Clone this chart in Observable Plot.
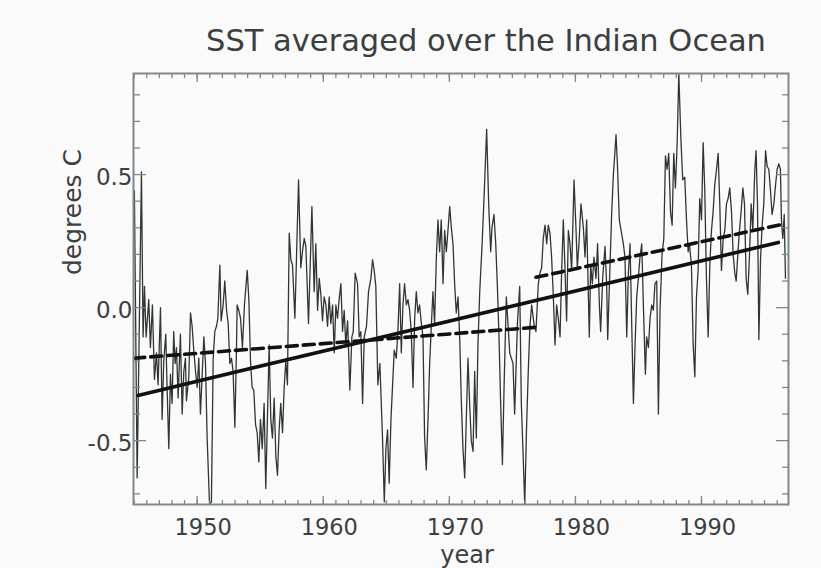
<!DOCTYPE html>
<html>
<head>
<meta charset="utf-8">
<script src="https://cdn.jsdelivr.net/npm/d3@7"></script>
<script src="https://cdn.jsdelivr.net/npm/@observablehq/plot@0.6"></script>
<style>
  html, body { margin: 0; padding: 0; background: #fafafa; }
</style>
</head>
<body>
<div id="chart"></div>
<script>
// ---- Data ----
const titleText = "SST averaged over the Indian Ocean";
const xLabel = "year";
const yLabel = "degrees C";

const sstYear = [
1945.02,1945.24,1945.58,1945.71,1945.82,1945.95,1946.16,1946.29,1946.45,1946.61,1946.77,1946.90,
1947.09,1947.22,1947.35,1947.51,1947.62,1947.75,1947.88,1948.01,1948.14,1948.25,1948.36,1948.49,
1948.67,1948.81,1948.94,1949.07,1949.15,1949.34,1949.47,1949.60,1949.73,1949.87,1950.00,1950.13,
1950.26,1950.39,1950.53,1950.66,1950.79,1950.98,1951.13,1951.27,1951.40,1951.53,1951.64,1951.80,
1951.90,1952.06,1952.19,1952.33,1952.46,1952.59,1952.72,1952.85,1952.99,1953.12,1953.17,1953.30,
1953.44,1953.59,1953.75,1953.97,1954.10,1954.23,1954.36,1954.49,1954.63,1954.76,1954.89,1955.02,
1955.16,1955.31,1955.44,1955.71,1955.84,1955.97,1956.11,1956.24,1956.37,1956.50,1956.63,1956.77,
1956.90,1957.03,1957.16,1957.30,1957.43,1957.56,1957.75,1958.04,1958.22,1958.35,1958.49,1958.62,
1958.83,1959.10,1959.28,1959.41,1959.55,1959.68,1959.81,1959.94,1960.07,1960.21,1960.34,1960.47,
1960.60,1960.74,1960.87,1961.00,1961.13,1961.26,1961.40,1961.53,1961.66,1961.79,1961.93,1962.11,
1962.27,1962.38,1962.53,1962.72,1962.85,1962.98,1963.12,1963.25,1963.43,1963.59,1963.78,1963.91,
1964.04,1964.17,1964.33,1964.49,1964.70,1964.84,1964.97,1965.10,1965.23,1965.37,1965.63,1965.79,
1965.92,1966.06,1966.19,1966.32,1966.45,1966.59,1966.72,1966.85,1966.98,1967.12,1967.25,1967.38,
1967.51,1967.64,1967.78,1967.91,1968.04,1968.17,1968.31,1968.44,1968.57,1968.70,1968.83,1968.97,
1969.10,1969.23,1969.36,1969.50,1969.63,1969.76,1969.89,1970.03,1970.16,1970.29,1970.42,1970.55,
1970.69,1970.82,1970.95,1971.08,1971.22,1971.35,1971.48,1971.61,1971.74,1971.88,1972.01,1972.14,
1972.27,1972.41,1972.59,1972.75,1972.96,1973.12,1973.28,1973.38,1973.54,1973.68,1973.81,1973.94,
1974.07,1974.21,1974.34,1974.52,1974.65,1974.79,1974.92,1975.05,1975.18,1975.40,1975.58,1975.71,
1975.85,1975.98,1976.13,1976.26,1976.39,1976.53,1976.71,1976.87,1977.06,1977.19,1977.32,1977.45,
1977.59,1977.72,1977.85,1977.98,1978.11,1978.25,1978.38,1978.51,1978.64,1978.78,1978.91,1979.04,
1979.17,1979.30,1979.44,1979.57,1979.70,1979.89,1980.05,1980.15,1980.28,1980.44,1980.63,1980.76,
1980.89,1981.02,1981.10,1981.21,1981.34,1981.47,1981.63,1981.76,1981.90,1982.00,1982.16,1982.35,
1982.48,1982.56,1982.69,1982.88,1983.01,1983.14,1983.22,1983.33,1983.48,1983.62,1983.80,1983.93,
1984.07,1984.20,1984.33,1984.46,1984.60,1984.73,1984.86,1984.99,1985.12,1985.26,1985.39,1985.55,
1985.65,1985.79,1985.92,1986.05,1986.18,1986.31,1986.45,1986.58,1986.71,1986.87,1987.01,1987.14,
1987.27,1987.40,1987.54,1987.67,1987.80,1987.93,1988.07,1988.20,1988.36,1988.51,1988.67,1988.81,
1988.94,1989.04,1989.20,1989.34,1989.47,1989.60,1989.73,1989.86,1990.00,1990.13,1990.26,1990.39,
1990.53,1990.66,1990.79,1990.92,1991.05,1991.19,1991.32,1991.45,1991.58,1991.72,1991.85,1991.98,
1992.11,1992.24,1992.38,1992.51,1992.64,1992.75,1992.88,1993.01,1993.14,1993.28,1993.41,1993.54,
1993.67,1993.81,1993.94,1994.07,1994.23,1994.33,1994.44,1994.55,1994.68,1994.81,1994.94,1995.08,
1995.21,1995.34,1995.47,1995.60,1995.74,1995.87,1996.00,1996.13,1996.26,1996.34,1996.45,1996.56,
1996.66
];
const sstValue = [
0.44,-0.64,0.51,-0.11,0.08,-0.11,0.03,-0.15,0.01,-0.27,-0.17,-0.29,
0.00,-0.42,-0.20,-0.10,-0.31,-0.53,-0.25,-0.36,-0.09,-0.21,-0.15,-0.34,
-0.10,-0.40,-0.24,-0.19,-0.35,-0.26,-0.02,-0.07,-0.16,-0.24,-0.30,-0.19,
-0.40,-0.26,-0.11,-0.21,-0.49,-0.74,-0.73,-0.19,-0.09,-0.07,-0.04,0.16,
-0.05,0.01,0.10,-0.01,-0.06,-0.21,-0.19,-0.24,-0.45,-0.15,0.01,-0.01,
-0.04,-0.15,0.01,0.14,0.03,-0.20,-0.30,-0.31,-0.44,-0.47,-0.58,-0.42,
-0.53,-0.36,-0.68,-0.14,-0.42,-0.49,-0.34,-0.56,-0.63,-0.46,-0.36,-0.47,
-0.30,-0.20,-0.29,0.28,0.18,0.16,-0.04,0.48,0.15,0.21,0.26,0.23,
-0.06,0.38,0.06,0.24,-0.01,0.11,0.05,-0.05,0.04,0.01,-0.07,0.04,
-0.06,0.01,-0.17,0.01,-0.04,0.03,0.09,-0.09,-0.01,-0.14,-0.05,-0.31,
-0.11,-0.09,0.13,0.09,-0.11,-0.09,-0.36,-0.11,-0.07,0.06,0.11,0.18,
0.14,0.08,-0.29,-0.21,-0.49,-0.73,-0.53,-0.46,-0.66,-0.42,-0.16,-0.19,
-0.09,0.09,-0.17,0.01,0.09,0.01,0.03,-0.01,-0.09,-0.30,-0.04,0.06,
-0.02,0.01,-0.06,-0.11,-0.49,-0.61,-0.42,-0.21,-0.07,0.06,-0.06,0.19,
0.33,0.21,0.33,0.09,0.29,0.21,0.29,0.38,0.30,0.24,0.09,-0.02,
0.04,-0.11,-0.35,-0.53,-0.64,-0.41,-0.19,-0.36,-0.50,-0.54,-0.24,-0.49,
-0.14,0.06,0.23,0.41,0.67,0.39,0.21,0.30,0.35,0.24,0.08,-0.11,
-0.36,-0.59,-0.30,0.04,-0.06,-0.17,-0.19,-0.21,-0.40,-0.06,0.08,-0.36,
-0.55,-0.74,-0.44,-0.24,-0.07,0.01,-0.06,-0.09,0.09,0.13,0.15,0.26,
0.31,0.24,0.31,0.28,0.19,0.04,-0.14,0.01,-0.04,-0.11,0.14,0.33,
0.15,-0.05,0.29,0.24,0.14,0.48,0.29,0.15,0.24,0.39,0.30,0.19,
0.33,0.06,-0.11,0.16,0.09,0.19,0.11,0.24,0.01,-0.09,0.11,0.23,
0.08,-0.12,0.08,0.36,0.50,0.59,0.65,0.54,0.33,0.29,0.24,0.19,
-0.11,0.13,0.24,-0.05,-0.36,-0.14,0.04,0.11,0.19,0.24,0.01,-0.25,
-0.11,-0.15,-0.04,0.01,-0.01,0.09,0.10,-0.40,-0.01,0.20,0.26,0.57,
0.52,0.58,0.36,0.31,0.58,0.45,0.62,0.88,0.64,0.48,0.49,0.33,
0.21,0.24,0.16,-0.14,-0.26,0.04,0.14,0.41,0.33,0.62,0.44,0.11,
-0.11,0.16,0.29,0.36,0.46,0.52,0.58,0.39,0.14,0.26,0.29,0.39,
0.41,0.45,0.36,0.20,0.13,0.10,0.20,0.29,0.36,0.45,0.39,0.11,
0.05,0.20,0.39,0.29,0.52,0.59,0.39,-0.12,0.18,0.31,0.39,0.59,
0.53,0.52,0.44,0.35,0.39,0.46,0.52,0.54,0.52,0.33,0.26,0.35,
0.11
];

// Linear trend over the whole record (solid)
const trendYear = [1945.3, 1996.1];
const trendValue = [-0.33, 0.245];
// Separate fits before and after the 1976 shift (dashed)
const earlyFitYear = [1944.97, 1976.87];
const earlyFitValue = [-0.19, -0.074];
const lateFitYear = [1976.87, 1996.6];
const lateFitValue = [0.114, 0.315];

// Axis ticks
const xMajorTicks = [1950, 1960, 1970, 1980, 1990];
const xMinorTicks = d3.range(1945, 1997);
const yMajorTicks = [-0.5, 0.0, 0.5];
const yMinorTicks = [-0.7, -0.6, -0.4, -0.3, -0.2, -0.1, 0.1, 0.2, 0.3, 0.4, 0.6, 0.7, 0.8];

// ---- Build tables ----
const sst = sstYear.map((y, i) => ({year: y, value: sstValue[i]}));
const trend = trendYear.map((y, i) => ({year: y, value: trendValue[i]}));
const earlyFit = earlyFitYear.map((y, i) => ({year: y, value: earlyFitValue[i]}));
const lateFit = lateFitYear.map((y, i) => ({year: y, value: lateFitValue[i]}));

const frameColor = "#7f8888";
const textColor = "#3a4040";
const font = "DejaVu Sans";

const chart = Plot.plot({
  width: 821,
  height: 568,
  marginLeft: 133,
  marginRight: 33,
  marginTop: 73,
  marginBottom: 64,
  style: {background: "#fafafa", color: textColor, fontFamily: font, overflow: "visible"},
  x: {domain: [1944.95, 1996.9]},
  y: {domain: [-0.74, 0.88]},
  marks: [
    // data
    Plot.line(sst, {x: "year", y: "value", stroke: "#303636", strokeWidth: 1.3, clip: true}),
    Plot.line(trend, {x: "year", y: "value", stroke: "#111", strokeWidth: 3.6, clip: true}),
    Plot.line(earlyFit, {x: "year", y: "value", stroke: "#111", strokeWidth: 3.6, strokeDasharray: "11,6", clip: true}),
    Plot.line(lateFit, {x: "year", y: "value", stroke: "#111", strokeWidth: 3.6, strokeDasharray: "11,6", clip: true}),

    // inward ticks, all four sides
    Plot.axisX(xMinorTicks, {anchor: "bottom", tickSize: -4, tickFormat: () => "", stroke: frameColor, strokeWidth: 1.3, label: null}),
    Plot.axisX(xMajorTicks, {anchor: "bottom", tickSize: -8, tickFormat: () => "", stroke: frameColor, strokeWidth: 1.3, label: null}),
    Plot.axisX(xMinorTicks, {anchor: "top", tickSize: -4, tickFormat: () => "", stroke: frameColor, strokeWidth: 1.3, label: null}),
    Plot.axisX(xMajorTicks, {anchor: "top", tickSize: -8, tickFormat: () => "", stroke: frameColor, strokeWidth: 1.3, label: null}),
    Plot.axisY(yMinorTicks, {anchor: "left", tickSize: -7, tickFormat: () => "", stroke: frameColor, strokeWidth: 1.3, label: null}),
    Plot.axisY(yMajorTicks, {anchor: "left", tickSize: -13, tickFormat: () => "", stroke: frameColor, strokeWidth: 1.3, label: null}),
    Plot.axisY(yMinorTicks, {anchor: "right", tickSize: -7, tickFormat: () => "", stroke: frameColor, strokeWidth: 1.3, label: null}),
    Plot.axisY(yMajorTicks, {anchor: "right", tickSize: -13, tickFormat: () => "", stroke: frameColor, strokeWidth: 1.3, label: null}),

    // tick labels
    Plot.axisX(xMajorTicks, {anchor: "bottom", tickSize: 0, tickPadding: 15, dx: 6, fontSize: 22.5, fill: textColor, tickFormat: d => String(d), label: null}),
    Plot.axisY(yMajorTicks, {anchor: "left", tickSize: 0, tickPadding: 1, dy: 3, fontSize: 23, fill: textColor, tickFormat: d => d.toFixed(1), label: null}),

    Plot.frame({stroke: frameColor, strokeWidth: 2}),

    // title and axis titles
    Plot.text([titleText], {frameAnchor: "top", dx: 25, dy: -32, lineAnchor: "middle", fontSize: 30.5, fill: textColor}),
    Plot.text([xLabel], {frameAnchor: "bottom", dx: 6, dy: 51, lineAnchor: "middle", fontSize: 24, fill: textColor}),
    Plot.text([yLabel], {frameAnchor: "left", dx: -61, dy: -14, rotate: -90, lineAnchor: "middle", fontSize: 25, fill: textColor})
  ]
});

document.getElementById("chart").appendChild(chart);
</script>
</body>
</html>
